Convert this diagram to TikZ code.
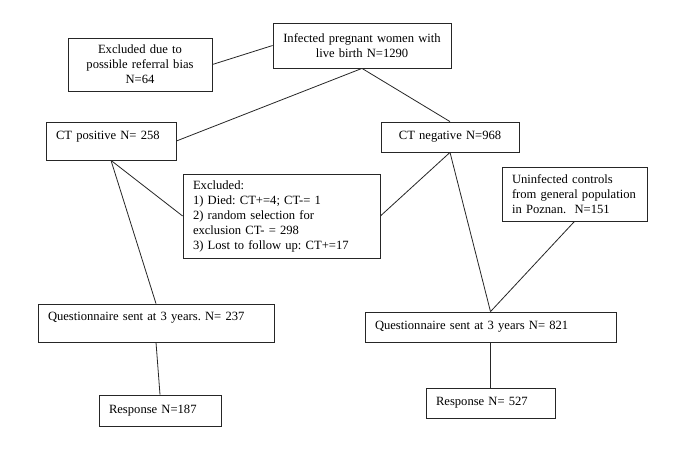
\documentclass[tikz,border=0pt]{standalone}
\usepackage{fontspec}
\setmainfont{Liberation Serif}
\frenchspacing
\begin{document}
\begin{tikzpicture}[x=1pt,y=-1pt,
  box/.style={draw=black!85,line width=0.8pt,rectangle,inner xsep=10pt,inner ysep=0pt,
    font=\fontsize{12.6}{15}\selectfont\frenchspacing},
  lbox/.style={box,align=left},
  cbox/.style={box,align=center},
  conn/.style={draw=black!85,line width=0.8pt}]
\useasboundingbox (0,0) rectangle (685,456);
\fill[white] (0,0) rectangle (685,456);
\node[cbox,text width=158pt,minimum height=45pt] (top) at (362,45.5)
  {Infected pregnant women with\\live birth N=1290};
\node[cbox,text width=124pt,minimum height=53pt] (ref) at (140,64.5)
  {Excluded due to\\possible referral bias\\N=64};
\node[lbox,text width=110pt,minimum height=38pt,text height=17pt,text depth=21pt] (cpos) at (111,141)
  {CT positive N= 258};
\node[cbox,text width=118pt,minimum height=30pt] (cneg) at (450,137)
  {CT negative N=968};
\node[lbox,text width=177pt,minimum height=84pt] (excl) at (281.5,216)
  {Excluded:\\1) Died: CT+=4; CT-= 1\\2) random selection for\\exclusion CT- = 298\\3) Lost to follow up: CT+=17};
\node[lbox,text width=125pt,minimum height=54pt] (unf) at (574.5,194)
  {Uninfected controls\\from general population\\in Poznan.\ \ N=151};
\node[lbox,text width=216pt,minimum height=38pt,text height=16pt,text depth=22pt] (q1) at (156,323)
  {Questionnaire sent at 3 years. N= 237};
\node[lbox,text width=231pt,minimum height=30pt] (q2) at (490.5,327)
  {Questionnaire sent at 3 years N= 821};
\node[lbox,text width=102pt,minimum height=31pt] (r1) at (160,410.5)
  {Response N=187};
\node[lbox,text width=109pt,minimum height=30pt] (r2) at (490.5,403)
  {Response N= 527};
\draw[conn] (ref.east) -- (top.west);
\draw[conn] (top.south) -- (cpos.east);
\draw[conn] (top.south) -- (cneg.north);
\draw[conn] (cpos.south) -- (excl.west);
\draw[conn] (cpos.south) -- (q1.north);
\draw[conn] (excl.east) -- (cneg.south);
\draw[conn] (cneg.south) -- (q2.north);
\draw[conn] (unf.south) -- (q2.north);
\draw[conn] (q1.south) -- (r1.north);
\draw[conn] (q2.south) -- (r2.north);
\end{tikzpicture}
\end{document}
